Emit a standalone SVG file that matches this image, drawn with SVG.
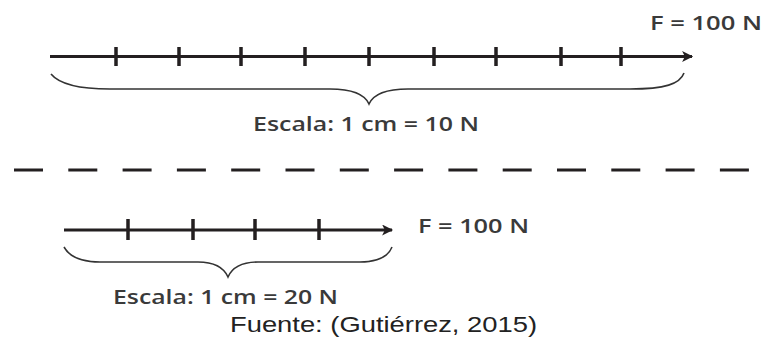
<svg xmlns="http://www.w3.org/2000/svg" width="764" height="338" viewBox="0 0 764 338">
<defs>
<style>
.ax{stroke:#231f20;stroke-width:3;fill:none}
.tk{stroke:#231f20;stroke-width:3.5}
.br{stroke:#333;stroke-width:1.6;fill:none}
.lb{font-family:"Open Sans","Liberation Sans",Arial,sans-serif;font-weight:600;fill:#3a3a3a}
.src{font-family:"Liberation Sans",Arial,sans-serif;fill:#222}
</style>
<marker id="ah" viewBox="0 0 10 10" refX="9" refY="5" markerWidth="16" markerHeight="11" markerUnits="userSpaceOnUse" orient="auto">
<path d="M0,0 L10,5 L0,10 L2.5,5 Z" fill="#231f20"/>
</marker>
</defs>
<g id="connectors">
<line class="ax" x1="50" y1="56.5" x2="692" y2="56.5" marker-end="url(#ah)"/>
<line class="ax" x1="64" y1="230" x2="392" y2="230" marker-end="url(#ah)"/>
</g>
<g id="top-scale">
<path class="tk" d="M116,47V66M179,47V66M241,47V66M305,47V66M369,47V66M434,47V66M496,47V66M561,47V66M621,47V66"/>
<path class="br" d="M51,74 C60,85 80,89 110,89 L330,89 C355,89 365,95 369,104 C373,95 383,89 408,89 L630,89 C665,89 680,84 684,73"/>
<text class="lb" x="253" y="131" font-size="19.5" textLength="226" lengthAdjust="spacingAndGlyphs">Escala: 1 cm = 10 N</text>
<text class="lb" x="650" y="30" font-size="20.5" textLength="112" lengthAdjust="spacingAndGlyphs">F = 100 N</text>
</g>
<g id="divider">
<line x1="14" y1="170" x2="752" y2="170" stroke="#231f20" stroke-width="3" stroke-dasharray="29 25.3"/>
</g>
<g id="bottom-scale">
<path class="tk" d="M128,219V240M193,219V240M255,219V240M319,219V240"/>
<path class="br" d="M64,247 C70,258 82,262 100,262 L198,262 C216,262 224,268 228,277 C232,268 240,262 258,262 L360,262 C378,262 388,257 392,247"/>
<text class="lb" x="113" y="304" font-size="19.5" textLength="225" lengthAdjust="spacingAndGlyphs">Escala: 1 cm = 20 N</text>
<text class="lb" x="418" y="233" font-size="20.5" textLength="111" lengthAdjust="spacingAndGlyphs">F = 100 N</text>
</g>
<g id="source">
<text class="src" x="230" y="332" font-size="22" textLength="307" lengthAdjust="spacingAndGlyphs">Fuente: (Gutiérrez, 2015)</text>
</g>
</svg>
